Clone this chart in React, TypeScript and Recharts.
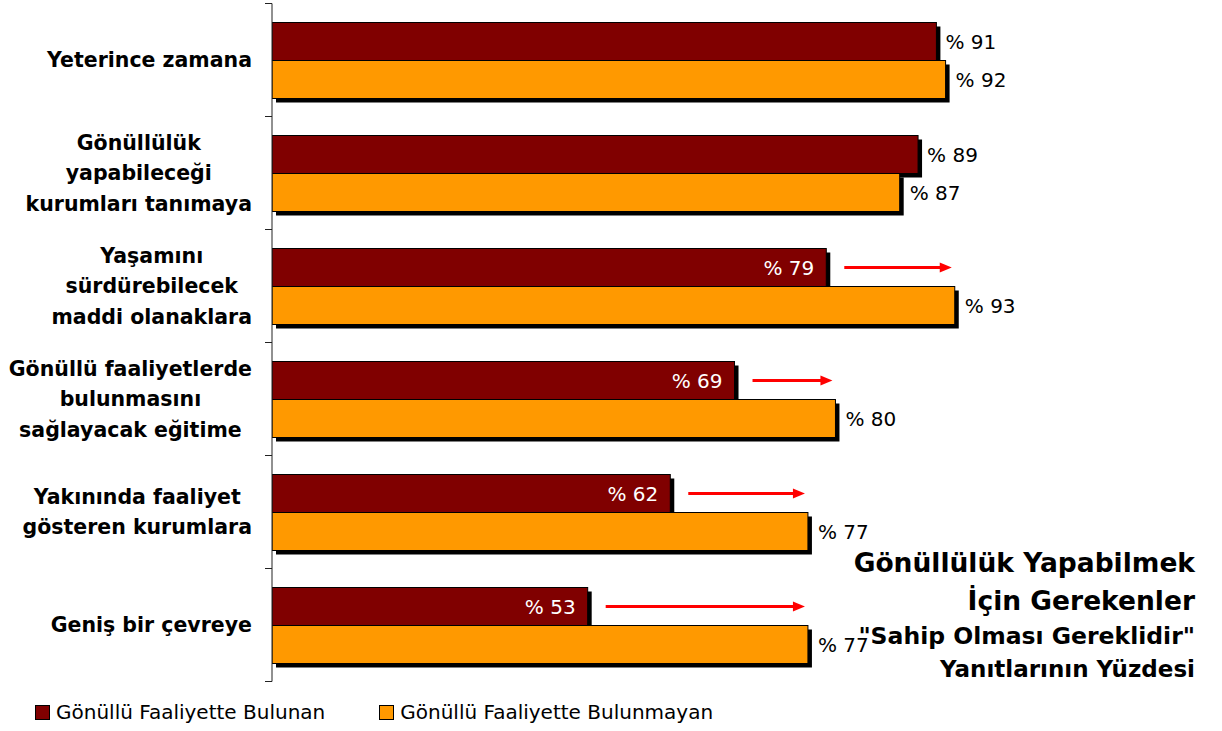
import React from 'react'
import { BarChart, Bar, XAxis, YAxis } from 'recharts'

const categories = [
  'Yeterince zamana',
  'Gönüllülük\nyapabileceği\nkurumları tanımaya',
  'Yaşamını\nsürdürebilecek\nmaddi olanaklara',
  'Gönüllü faaliyetlerde\nbulunmasını\nsağlayacak eğitime',
  'Yakınında faaliyet\ngösteren kurumlara',
  'Geniş bir çevreye'
]
const bulunan = [91, 89, 79, 69, 62, 53]
const bulunmayan = [92, 87, 93, 80, 77, 77]
const showArrow = [false, false, true, true, true, true]
const seriesNames = ['Gönüllü Faaliyette Bulunan', 'Gönüllü Faaliyette Bulunmayan']
const titleLines = ['Gönüllülük Yapabilmek', 'İçin Gerekenler', '"Sahip Olması Gereklidir"', 'Yanıtlarının Yüzdesi']

const data = categories.map((name, i) => ({
  name,
  bulunan: bulunan[i],
  bulunmayan: bulunmayan[i],
  arrow: showArrow[i]
}))

const W = 1222
const H = 731
const MARGIN = { top: 3.5, right: 203, bottom: 49.5, left: 0 }
const BAND = (H - MARGIN.top - MARGIN.bottom) / categories.length
const DOMAIN_MIN = 18.6
const DARK_RED = '#800000'
const ORANGE = '#FF9900'
const FONT = "'DejaVu Sans', Verdana, sans-serif"
const CAT_SIZE = 20.5
const CAT_FONT = `bold ${CAT_SIZE}px ${FONT}`
const LINE_H = 30.5

let ctx: CanvasRenderingContext2D | null = null
function measure(text: string): number {
  if (!ctx) ctx = document.createElement('canvas').getContext('2d')
  if (!ctx) return text.length * 12
  ctx.font = CAT_FONT
  return ctx.measureText(text).width
}

function CategoryTick(props: any) {
  const { x, y, payload } = props
  const index = props.index ?? payload.index
  const lines = String(payload.value).split('\n')
  const widest = Math.max(...lines.map(measure))
  const cx = x - 20 - widest / 2
  const top = y - ((lines.length - 1) * LINE_H) / 2
  return (
    <g>
      <line x1={x - 7} x2={x} y1={y - BAND / 2} y2={y - BAND / 2} stroke="#222" />
      {index === categories.length - 1 && (
        <line x1={x - 7} x2={x} y1={y + BAND / 2} y2={y + BAND / 2} stroke="#222" />
      )}
      <text textAnchor="middle" fontFamily={FONT} fontWeight="bold" fontSize={CAT_SIZE} fill="#000">
        {lines.map((l, i) => (
          <tspan key={i} x={cx} y={top + i * LINE_H} dy="0.35em">{l}</tspan>
        ))}
      </text>
    </g>
  )
}

function ShadowRect({ x, y, width, height, fill }: any) {
  return (
    <g>
      <rect x={x + 4} y={y + 4} width={width} height={height} fill="#000" />
      <rect x={x} y={y} width={width} height={height} fill={fill} stroke="#000" strokeWidth={1} />
    </g>
  )
}

function RedBar(props: any) {
  const { x, y, width, height, payload } = props
  const cy = y + height / 2
  const value = payload.bulunan
  if (!payload.arrow) {
    return (
      <g>
        <ShadowRect {...props} fill={DARK_RED} />
        <text x={x + width + 9} y={cy} dy="0.35em" fontFamily={FONT} fontSize={20} fill="#000">
          % {value}
        </text>
      </g>
    )
  }
  // arrow runs from the red label towards the end of the orange bar
  const pxPerUnit = width / (value - DOMAIN_MIN)
  const x1 = x + width + 18
  const x2 = x + (payload.bulunmayan - DOMAIN_MIN) * pxPerUnit - 3
  return (
    <g>
      <ShadowRect {...props} fill={DARK_RED} />
      <text x={x + width - 12} y={cy} dy="0.35em" textAnchor="end" fontFamily={FONT} fontSize={20} fill="#fff">
        % {value}
      </text>
      <line x1={x1} x2={x2 - 10} y1={cy} y2={cy} stroke="#FF0000" strokeWidth={3} />
      <polygon points={`${x2},${cy} ${x2 - 12},${cy - 5} ${x2 - 12},${cy + 5}`} fill="#FF0000" />
    </g>
  )
}

function OrangeBar(props: any) {
  const { x, y, width, height, payload } = props
  return (
    <g>
      <ShadowRect {...props} fill={ORANGE} />
      <text x={x + width + 10} y={y + height / 2} dy="0.35em" fontFamily={FONT} fontSize={20} fill="#000">
        % {payload.bulunmayan}
      </text>
    </g>
  )
}

export default function App() {
  return (
    <div style={{ position: 'absolute', left: 0, top: 0, width: W, height: H, background: '#fff', fontFamily: FONT }}>
      <BarChart
        width={W}
        height={H}
        data={data}
        layout="vertical"
        margin={MARGIN}
        barSize={38}
        barGap={0}
      >
        <XAxis type="number" domain={[DOMAIN_MIN, 100]} hide allowDataOverflow />
        <YAxis
          type="category"
          dataKey="name"
          width={272}
          tickSize={0}
          tickMargin={0}
          tickLine={false}
          axisLine={{ stroke: '#222' }}
          tick={<CategoryTick />}
          interval={0}
        />
        <Bar dataKey="bulunan" fill={DARK_RED} shape={<RedBar />} isAnimationActive={false} />
        <Bar dataKey="bulunmayan" fill={ORANGE} shape={<OrangeBar />} isAnimationActive={false} />
      </BarChart>

      {/* title, bottom right */}
      <div style={{ position: 'absolute', right: 27, top: 544, textAlign: 'right', fontWeight: 'bold', color: '#000' }}>
        <div style={{ fontSize: 26.5, lineHeight: '38px' }}>{titleLines[0]}</div>
        <div style={{ fontSize: 26.5, lineHeight: '37px' }}>{titleLines[1]}</div>
        <div style={{ fontSize: 23.5, lineHeight: '34px' }}>{titleLines[2]}</div>
        <div style={{ fontSize: 23, lineHeight: '32px' }}>{titleLines[3]}</div>
      </div>

      {/* legend */}
      <div style={{ position: 'absolute', left: 35, top: 700, display: 'flex', alignItems: 'center', fontSize: 20, color: '#000' }}>
        {seriesNames.map((n, i) => (
          <div key={n} style={{ display: 'flex', alignItems: 'center', marginRight: i === 0 ? 54 : 0 }}>
            <span style={{ width: 13, height: 13, background: i === 0 ? DARK_RED : ORANGE, border: '1px solid #000', marginRight: 6, display: 'inline-block' }} />
            <span>{n}</span>
          </div>
        ))}
      </div>
    </div>
  )
}
